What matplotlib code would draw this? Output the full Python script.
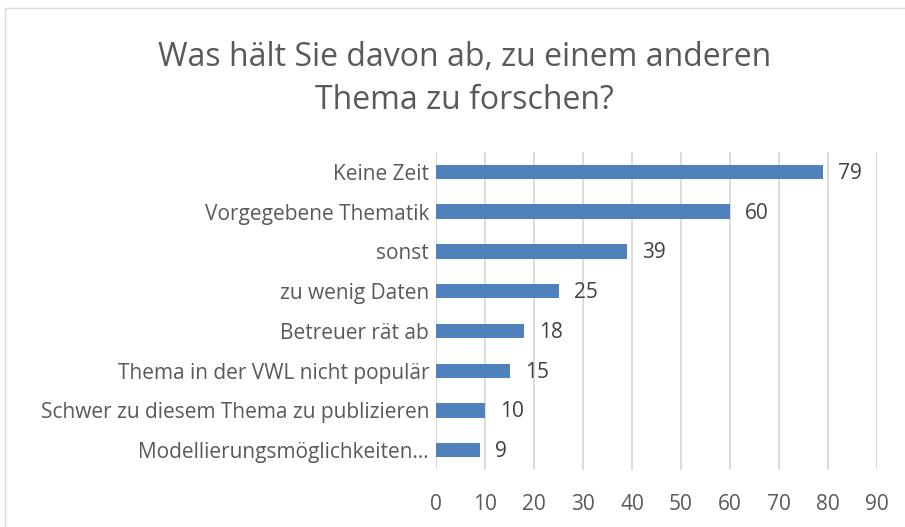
import matplotlib.pyplot as plt
from matplotlib.patches import Rectangle

# Daten
kategorien = ['Keine Zeit', 'Vorgegebene Thematik', 'sonst', 'zu wenig Daten',
              'Betreuer rät ab', 'Thema in der VWL nicht populär',
              'Schwer zu diesem Thema zu publizieren', 'Modellierungsmöglichkeiten…']
werte = [79, 60, 39, 25, 18, 15, 10, 9]
xticks = list(range(0, 100, 10))

plt.rcParams['font.family'] = ['Open Sans', 'DejaVu Sans']
textfarbe = '#595959'
balken = '#4F81BD'

fig = plt.figure(figsize=(9.05, 5.27), dpi=100)
ax = fig.add_axes([0.4818, 0.108, 0.969 - 0.4818, 0.7116 - 0.108])

pos = list(range(len(kategorien)))[::-1]
ax.barh(pos, werte, height=0.36, color=balken, zorder=3)
for p, w in zip(pos, werte):
    ax.annotate(str(w), (w, p), xytext=(11, -1), textcoords='offset points',
                va='center', ha='left', fontsize=15, color='#404040')

ax.set_xlim(0, 90)
ax.set_ylim(-0.5, len(kategorien) - 0.5)
ax.set_xticks(xticks)
ax.set_yticks(pos)
ax.set_yticklabels(kategorien)
ax.tick_params(axis='both', length=0, labelsize=15, colors=textfarbe)
ax.tick_params(axis='y', pad=5)
ax.tick_params(axis='x', pad=17)
ax.grid(axis='x', color='#D9D9D9', linewidth=1.3, zorder=0)
for s in ax.spines.values():
    s.set_visible(False)

fig.text(0.513, 0.85, 'Was hält Sie davon ab, zu einem anderen\nThema zu forschen?',
         ha='center', va='center', fontsize=23, color=textfarbe, linespacing=1.38)

fig.patches.append(Rectangle((0.005, -0.01), 1.2, 0.995, transform=fig.transFigure,
                             fill=False, edgecolor='#D9D9D9', linewidth=1))

fig.savefig('out.png', dpi=100)
